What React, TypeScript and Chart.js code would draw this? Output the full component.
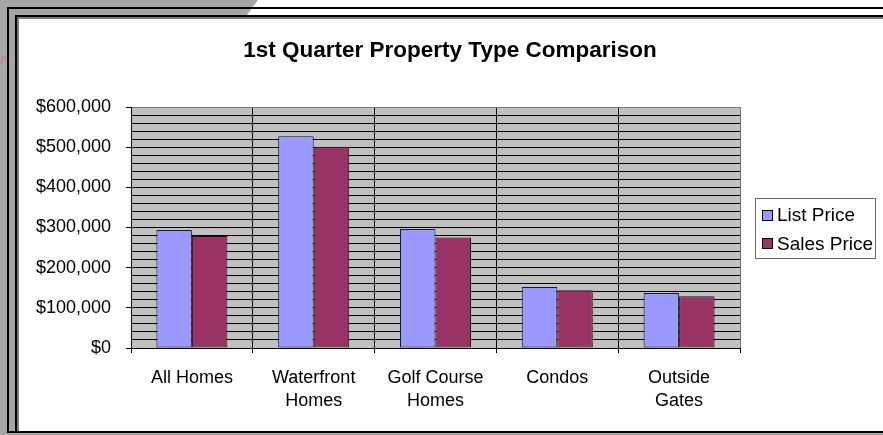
import React, { useEffect, useRef } from "react";
import { Chart, registerables } from "chart.js";

Chart.register(...registerables);

const categories: string[][] = [
  ["All Homes"],
  ["Waterfront", "Homes"],
  ["Golf Course", "Homes"],
  ["Condos"],
  ["Outside", "Gates"],
];
const seriesNames = ["List Price", "Sales Price"];
const listPrice = [294000, 527000, 296000, 152000, 137000];
const salesPrice = [279000, 501000, 275000, 144000, 129000];
const seriesColors = ["#9999ff", "#993366"];
const yMin = 0;
const yMax = 600000;
const yMinorStep = 20000;
const yMajorStep = 100000;
const titleText = "1st Quarter Property Type Comparison";

const FONT = "'Liberation Sans', Arial, Helvetica, sans-serif";

const framePlugin = {
  id: "frame",
  beforeDraw(chart: any) {
    const { ctx, width, height, chartArea } = chart;
    ctx.save();
    ctx.fillStyle = "#ffffff";
    ctx.fillRect(0, 0, width, height);
    // grey backdrop around the frame
    ctx.fillStyle = "#a6a6a6";
    ctx.fillRect(0, 0, 19, height);
    ctx.beginPath();
    ctx.moveTo(0, 0);
    ctx.lineTo(258, 0);
    ctx.lineTo(244, 19);
    ctx.lineTo(0, 19);
    ctx.closePath();
    ctx.fill();
    ctx.fillRect(0, 433, width, 2);
    // faint pink stroke at the left
    ctx.fillStyle = "rgba(200,120,120,0.35)";
    ctx.beginPath();
    ctx.moveTo(0, 58);
    ctx.lineTo(13, 52);
    ctx.lineTo(0, 66);
    ctx.closePath();
    ctx.fill();
    // frame lines
    ctx.fillStyle = "#000";
    ctx.fillRect(7, 7, 2, 426);
    ctx.fillRect(7, 7, width - 7, 2);
    ctx.fillRect(15, 15, 2, 417);
    ctx.fillRect(15, 15, width - 15, 2);
    ctx.fillRect(7, 431, width - 7, 2);
    ctx.fillStyle = "#7a7a7a";
    ctx.fillRect(17, 17, 2, 414);
    ctx.fillRect(17, 17, width - 17, 2);
    // plot area background
    ctx.fillStyle = "#c0c0c0";
    ctx.fillRect(
      chartArea.left,
      chartArea.top,
      chartArea.right - chartArea.left,
      chartArea.bottom - chartArea.top
    );
    // title
    ctx.fillStyle = "#000";
    ctx.font = `bold 22.5px ${FONT}`;
    ctx.textAlign = "center";
    ctx.textBaseline = "alphabetic";
    ctx.fillText(titleText, 450, 56.5);
    ctx.restore();
  },
};

const legendPlugin = {
  id: "boxLegend",
  afterDraw(chart: any) {
    const { ctx } = chart;
    ctx.save();
    ctx.strokeStyle = "#6a6a6a";
    ctx.lineWidth = 1;
    ctx.strokeRect(755.5, 198.5, 120, 60);
    ctx.font = `19px ${FONT}`;
    ctx.textBaseline = "middle";
    ctx.textAlign = "left";
    chart.data.datasets.forEach((ds: any, i: number) => {
      const cy = 215 + i * 28.3;
      ctx.fillStyle = ds.backgroundColor;
      ctx.fillRect(762.5, Math.round(cy - 5) + 0.5, 10, 10);
      ctx.strokeStyle = "#000";
      ctx.strokeRect(762.5, Math.round(cy - 5) + 0.5, 10, 10);
      ctx.fillStyle = "#000";
      ctx.fillText(ds.label, 777, cy + 1);
    });
    ctx.restore();
  },
};

export default function App() {
  const ref = useRef<HTMLCanvasElement | null>(null);

  useEffect(() => {
    if (!ref.current) return;
    const chart = new Chart(ref.current, {
      type: "bar",
      data: {
        labels: categories,
        datasets: [
          {
            label: seriesNames[0],
            data: listPrice,
            backgroundColor: seriesColors[0],
            borderColor: "#1a1a1a",
            borderWidth: 1,
            borderSkipped: false,
          },
          {
            label: seriesNames[1],
            data: salesPrice,
            backgroundColor: seriesColors[1],
            borderColor: "#1a1a1a",
            borderWidth: 1,
            borderSkipped: false,
          },
        ],
      },
      options: {
        responsive: false,
        animation: false,
        layout: { padding: { left: 20, right: 143, top: 107, bottom: 22 } },
        datasets: {
          bar: { categoryPercentage: 0.583, barPercentage: 1 },
        },
        plugins: {
          legend: { display: false },
          tooltip: { enabled: false },
          title: { display: false },
        },
        scales: {
          x: {
            offset: true,
            grid: {
              offset: true,
              color: (c: any) => (c.type === "tick" ? "#000" : "#7a7a7a"),
              lineWidth: 1,
              tickLength: 5,
              tickColor: "#000",
              drawTicks: true,
            },
            border: { display: true, color: "#000", width: 1 },
            ticks: {
              color: "#000",
              padding: 14,
              maxRotation: 0,
              autoSkip: false,
              font: { family: FONT, size: 18, lineHeight: 23 / 18 },
            },
            afterFit: (s: any) => {
              s.height = 65;
            },
          },
          y: {
            min: yMin,
            max: yMax,
            grid: {
              color: (c: any) =>
                c.tick && c.tick.value === yMax ? "#7a7a7a" : "#000",
              lineWidth: 1,
              tickLength: 5,
              tickColor: (c: any) =>
                c.tick && c.tick.value % yMajorStep === 0 ? "#000" : "rgba(0,0,0,0)",
            },
            border: { display: true, color: "#000", width: 1 },
            afterBuildTicks: (s: any) => {
              const t = [];
              for (let v = yMin; v <= yMax; v += yMinorStep) t.push({ value: v });
              s.ticks = t;
            },
            ticks: {
              autoSkip: false,
              color: "#000",
              padding: 15,
              font: { family: FONT, size: 18 },
              callback: (v: any) =>
                Number(v) % yMajorStep === 0
                  ? "$" + Number(v).toLocaleString("en-US")
                  : "",
            },
            afterFit: (s: any) => {
              s.width = 111;
            },
          },
        },
      },
      plugins: [framePlugin, legendPlugin],
    } as any);
    return () => chart.destroy();
  }, []);

  return (
    <div style={{ position: "fixed", left: 0, top: 0, width: 883, height: 435 }}>
      <canvas ref={ref} width={883} height={435} style={{ display: "block" }} />
    </div>
  );
}
